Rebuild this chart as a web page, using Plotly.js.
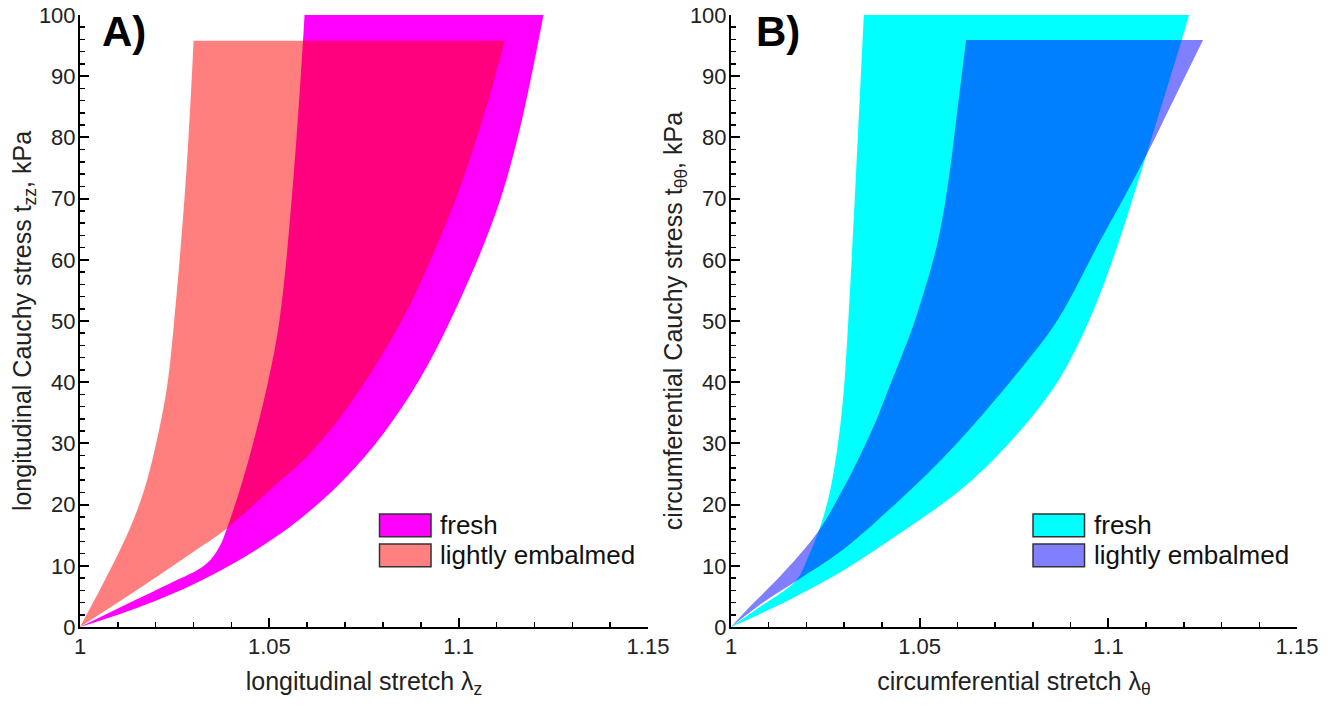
<!DOCTYPE html>
<html>
<head>
<meta charset="utf-8">
<script src="https://cdn.plot.ly/plotly-3.0.1.min.js"></script>
<style>html,body{margin:0;padding:0;background:#fff;}#chart{width:1339px;height:707px;}</style>
</head>
<body>
<div id="chart"></div>
<script>
// ---------- Data ----------
// Panel A: longitudinal stretch vs stress. Each band = left (steep) edge and right (shallow) edge.
const freshA_leftX  = [1, 1.008, 1.016, 1.024, 1.031, 1.0345, 1.0370, 1.0388, 1.042, 1.045, 1.0494, 1.0527, 1.0564, 1.0589, 1.0593];
const freshA_leftY  = [0, 2.4, 4.8, 7.2, 9.3, 11.0, 13.3, 16.1, 22.0, 28.4, 39.3, 50.2, 73.6, 95.8, 100];
const freshA_rightX = [1, 1.01, 1.02, 1.03, 1.04, 1.05, 1.06, 1.07, 1.08, 1.09, 1.10, 1.11, 1.116, 1.1224];
const freshA_rightY = [0, 2.0, 4.3, 7.0, 10.2, 14.0, 18.6, 24.3, 31.5, 40.8, 53.0, 68, 81, 100];

const embA_leftX  = [1, 1.0057, 1.0101, 1.0141, 1.0172, 1.0205, 1.0230, 1.0249, 1.0280, 1.0300];
const embA_leftY  = [0, 6.6, 12, 17.5, 22.9, 31.1, 39.3, 50.2, 73.6, 95.8];
const embA_rightX = [1, 1.010, 1.020, 1.030, 1.0388, 1.0511, 1.0608, 1.0714, 1.0851, 1.0945, 1.1014, 1.1071, 1.1122];
const embA_rightY = [0, 4.0, 8.1, 12.3, 16.1, 22.9, 28.4, 36.5, 50.2, 62.7, 73.6, 84.5, 95.8];

// Panel B: circumferential stretch vs stress
const freshB_leftX  = [1, 1.0077, 1.0174, 1.0205, 1.0232, 1.0258, 1.0280, 1.0298, 1.0311, 1.0331, 1.0344, 1.0352];
const freshB_leftY  = [0, 3.3, 7.7, 11.5, 15.6, 21.0, 28.4, 38.0, 50.2, 73.6, 89.9, 100];
const freshB_rightX = [1, 1.0124, 1.0291, 1.0433, 1.0618, 1.0768, 1.0870, 1.0950, 1.1020, 1.1083, 1.1140, 1.1190, 1.1214];
const freshB_rightY = [0, 3.5, 9.0, 14.7, 22.9, 32.2, 40.5, 50.2, 61.5, 73.6, 85.0, 95.0, 100];

const embB_leftX  = [1, 1.0053, 1.0132, 1.0231, 1.0300, 1.0345, 1.0385, 1.0420, 1.0455, 1.0488, 1.0547, 1.0578, 1.0600, 1.0623];
const embB_leftY  = [0, 3.5, 8.4, 15.6, 22.9, 28.4, 33.8, 39.3, 44.7, 50.2, 62.7, 73.6, 84.5, 95.9];
const embB_rightX = [1, 1.0085, 1.0177, 1.0283, 1.0389, 1.0574, 1.0772, 1.0866, 1.0975, 1.1040, 1.1100, 1.1172, 1.1251];
const embB_rightY = [0, 4.0, 7.7, 12.0, 17.5, 28.4, 42.5, 50.2, 62.7, 70.0, 77.0, 86.0, 95.9];

const seriesNames = ['fresh', 'lightly embalmed'];
const stretchTickVals = [1, 1.05, 1.1, 1.15];
const stretchTickText = ['1', '1.05', '1.1', '1.15'];
const stressTickVals = [0, 10, 20, 30, 40, 50, 60, 70, 80, 90, 100];
const stressTickText = ['0', '10', '20', '30', '40', '50', '60', '70', '80', '90', '100'];
const panelLabels = ['A)', 'B)'];

// ---------- Build ----------
const FONT = 'Liberation Sans, Arial, Helvetica, sans-serif';
// band = left edge trace (no fill) + right edge trace filled back to the previous trace
function band(lx, ly, rx, ry, color, name, xa, ya) {
  return [
    {type: 'scatter', mode: 'lines', name: name, x: lx, y: ly,
     line: {width: 0, shape: 'spline', smoothing: 1, color: color},
     hoverinfo: 'skip', showlegend: false, xaxis: xa, yaxis: ya},
    {type: 'scatter', mode: 'lines', name: name, x: rx, y: ry,
     fill: 'tonexty', fillcolor: color,
     line: {width: 0, shape: 'spline', smoothing: 1, color: color},
     hoverinfo: 'skip', showlegend: false, xaxis: xa, yaxis: ya}
  ];
}

const cols = {
  A: ['#FF00FF', 'rgba(255,0,0,0.5)'],
  B: ['#00FFFF', 'rgba(0,0,255,0.5)']
};

const data = [].concat(
  band(freshA_leftX, freshA_leftY, freshA_rightX, freshA_rightY, cols.A[0], seriesNames[0], 'x', 'y'),
  band(embA_leftX, embA_leftY, embA_rightX, embA_rightY, cols.A[1], seriesNames[1], 'x', 'y'),
  band(freshB_leftX, freshB_leftY, freshB_rightX, freshB_rightY, cols.B[0], seriesNames[0], 'x2', 'y2'),
  band(embB_leftX, embB_leftY, embB_rightX, embB_rightY, cols.B[1], seriesNames[1], 'x2', 'y2')
);

function xAxis(domain, title, anchor) {
  return {
    domain: domain, anchor: anchor, range: [1, 1.15],
    tickmode: 'array', tickvals: stretchTickVals, ticktext: stretchTickText,
    ticks: 'inside', ticklen: 9, tickwidth: 2, tickcolor: '#000',
    minor: {dtick: 0.01, tick0: 1, ticks: 'inside', ticklen: 5, tickwidth: 1.5, tickcolor: '#000'},
    showline: true, linewidth: 2, linecolor: '#000',
    showgrid: false, zeroline: false,
    tickfont: {family: FONT, size: 22, color: '#222'},
    ticklabelstandoff: -1,
    title: {text: title, font: {family: FONT, size: 25, color: '#222'}, standoff: 14},
    automargin: false, fixedrange: true
  };
}
function yAxis(title, anchor) {
  return {
    domain: [0, 1], anchor: anchor, range: [0, 100],
    tickmode: 'array', tickvals: stressTickVals, ticktext: stressTickText,
    ticks: 'inside', ticklen: 9, tickwidth: 2, tickcolor: '#000',
    minor: {dtick: 2, tick0: 0, ticks: 'inside', ticklen: 5, tickwidth: 1.5, tickcolor: '#000'},
    showline: true, linewidth: 2, linecolor: '#000',
    showgrid: false, zeroline: false,
    tickfont: {family: FONT, size: 22, color: '#222'},
    ticklabelstandoff: -2,
    title: {text: title, font: {family: FONT, size: 25, color: '#222'}, standoff: 0},
    automargin: false, fixedrange: true
  };
}

const W = 1339, ML = 80, MR = 42;
const pw = W - ML - MR;
const domA = [0, (648 - ML) / pw];
const domB = [(731 - ML) / pw, 1];

const legendRows = [[0.1846, 0.1475], [0.1356, 0.0985]];
const shapes = [];
const annotations = [];
[['x', 'y', cols.A, '#FF8080'], ['x2', 'y2', cols.B, '#8080FF']].forEach(function (p, i) {
  const x0 = i === 0 ? 0.5273 : 0.5336;
  const x1 = i === 0 ? 0.6180 : 0.6246;
  const swatchCols = [p[2][0], p[3]];
  for (let k = 0; k < 2; k++) {
    shapes.push({type: 'rect', xref: p[0] + ' domain', yref: p[1] + ' domain',
      x0: x0, x1: x1, y0: legendRows[k][1], y1: legendRows[k][0],
      fillcolor: swatchCols[k], line: {color: '#333', width: 1.5}});
    annotations.push({xref: p[0] + ' domain', yref: p[1] + ' domain',
      x: x1 + 0.013, y: (legendRows[k][0] + legendRows[k][1]) / 2,
      xanchor: 'left', yanchor: 'middle', showarrow: false,
      text: seriesNames[k], font: {family: FONT, size: 26, color: '#111'}});
  }
  annotations.push({xref: p[0] + ' domain', yref: p[1] + ' domain',
    x: i === 0 ? 0.036 : 0.041, y: 1.014, xanchor: 'left', yanchor: 'top', showarrow: false,
    text: '<b>' + panelLabels[i] + '</b>', font: {family: FONT, size: 42, color: '#000'}});
});

const layout = {
  width: 1339, height: 707,
  margin: {l: ML, r: MR, t: 15, b: 80},
  paper_bgcolor: '#fff', plot_bgcolor: '#fff',
  showlegend: false,
  xaxis: xAxis(domA, 'longitudinal stretch λ<sub>z</sub>', 'y'),
  yaxis: yAxis('longitudinal Cauchy stress t<sub>zz</sub>, kPa', 'x'),
  xaxis2: xAxis(domB, 'circumferential stretch λ<sub>θ</sub>', 'y2'),
  yaxis2: yAxis('circumferential Cauchy stress t<sub>θθ</sub>, kPa', 'x2'),
  shapes: shapes,
  annotations: annotations
};

Plotly.newPlot('chart', data, layout, {displayModeBar: false, staticPlot: true});
</script>
</body>
</html>
